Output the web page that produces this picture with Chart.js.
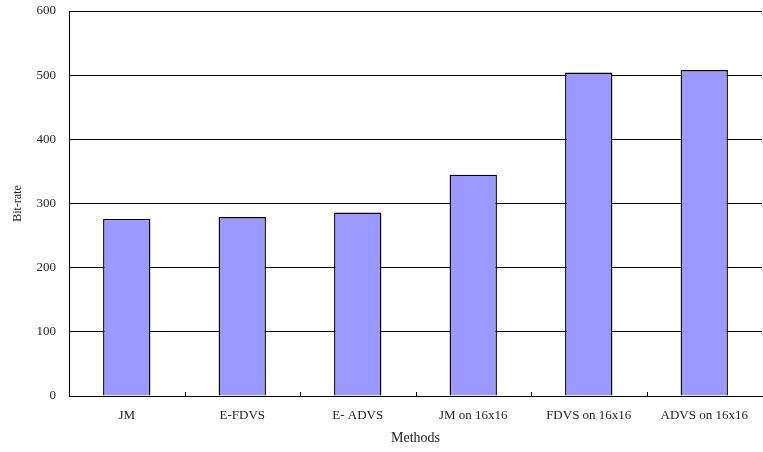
<!DOCTYPE html>
<html>
<head>
<meta charset="utf-8">
<script src="https://cdn.jsdelivr.net/npm/chart.js@4"></script>
<style>
  html, body { margin: 0; padding: 0; background: #fff; }
  #wrap { width: 763px; height: 452px; }
</style>
</head>
<body>
<div id="wrap"><canvas id="c" width="763" height="452"></canvas></div>
<script>
// Bit-rate per coding method
const methods = ['JM', 'E-FDVS', 'E- ADVS', 'JM on 16x16', 'FDVS on 16x16', 'ADVS on 16x16'];
const bitRates = [276, 279, 286, 345, 504, 508];
const yTicks = [0, 100, 200, 300, 400, 500, 600];

const FONT = "'Liberation Serif', 'DejaVu Serif', serif";

// short inward tick marks on the category axis, at the category boundaries
const boundaryTicks = {
  id: 'boundaryTicks',
  afterDatasetsDraw(chart) {
    const x = chart.scales.x;
    const ctx = chart.ctx;
    const y0 = chart.chartArea.bottom;
    const step = x.width / methods.length;
    ctx.save();
    ctx.strokeStyle = '#000';
    ctx.lineWidth = 1;
    for (let i = 1; i < methods.length; i++) {
      const px = Math.round(x.getPixelForValue(i) - step / 2) + 0.5;
      ctx.beginPath();
      ctx.moveTo(px, y0);
      ctx.lineTo(px, y0 - 4);
      ctx.stroke();
    }
    ctx.restore();
  }
};

new Chart(document.getElementById('c'), {
  type: 'bar',
  data: {
    labels: methods,
    datasets: [{
      data: bitRates,
      backgroundColor: '#9999ff',
      borderColor: '#000',
      borderWidth: 1.4,
      categoryPercentage: 1,
      barPercentage: 0.41
    }]
  },
  options: {
    responsive: false,
    animation: false,
    layout: { padding: { left: 0, top: 11, right: 1, bottom: 0 } },
    plugins: { legend: { display: false }, tooltip: { enabled: false } },
    scales: {
      x: {
        afterFit(s) { s.height = 56; s.paddingLeft = 0; s.paddingRight = 0; },
        grid: { display: false },
        border: { display: true, color: '#000', width: 1 },
        ticks: {
          color: '#222',
          padding: 4,
          maxRotation: 0,
          font: { family: FONT, size: 13 }
        },
        title: {
          display: true,
          text: 'Methods',
          color: '#222',
          padding: { top: 8, bottom: 5 },
          font: { family: FONT, size: 14 }
        }
      },
      y: {
        min: 0,
        max: 600,
        afterFit(s) { s.width = 69; s.paddingTop = 0; s.paddingBottom = 0; },
        afterBuildTicks(s) { s.ticks = yTicks.map(v => ({ value: v })); },
        grid: { color: '#000', lineWidth: 1, drawTicks: false },
        border: { display: true, color: '#000', width: 1 },
        ticks: {
          color: '#222',
          padding: 13,
          font: { family: FONT, size: 13 }
        },
        title: {
          display: true,
          text: 'Bit-rate',
          color: '#222',
          padding: { top: 11, bottom: 0 },
          font: { family: FONT, size: 12 }
        }
      }
    }
  },
  plugins: [boundaryTicks]
});
</script>
</body>
</html>
